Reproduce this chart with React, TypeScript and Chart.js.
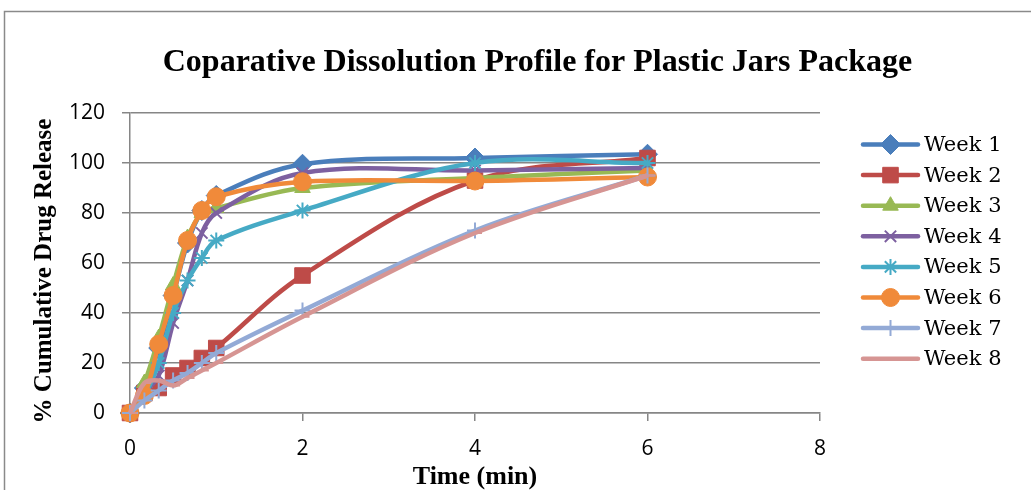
import React, { useEffect, useRef } from "react";
import { Chart, registerables } from "chart.js";
import { drawPoint } from "chart.js/helpers";

Chart.register(...registerables);

const TITLE = "Coparative Dissolution Profile for Plastic Jars Package";
const X_TITLE = "Time (min)";
const Y_TITLE = "% Cumulative Drug Release";

const times = [0, 0.167, 0.333, 0.5, 0.667, 0.833, 1, 2, 4, 6];

const seriesNames = ["Week 1", "Week 2", "Week 3", "Week 4", "Week 5", "Week 6", "Week 7", "Week 8"];

const week1 = [0, 10, 26, 47, 68, 81, 87, 99.5, 102, 103.5];
const week2 = [0, 8, 10, 15, 18, 22, 26, 55, 93, 102];
const week3 = [0, 12, 30, 51, 70, 80, 82, 90, 94, 97];
const week4 = [0, 8, 15, 36, 53, 72, 80, 96, 97, 98];
const week5 = [0, 7, 20, 40, 53, 62, 69, 81, 100, 100];
const week6 = [0, 7, 27.5, 47, 69, 81, 86.5, 92.5, 92.8, 94.4];
const week7 = [0, 5, 9, 13, 16, 20, 24, 41, 73, 95];
const week8 = [0, 12, 13, 11, 14, 17, 20, 38.5, 72, 95];

const seriesValues = [week1, week2, week3, week4, week5, week6, week7, week8];

const seriesColors = ["#4A7EBB", "#BE4B48", "#98B954", "#7D60A0", "#46AAC5", "#F08A3A", "#93AAD6", "#D69593"];
const pointStyles = ["rectRot", "rect", "triangle", "crossRot", "star", "circle", "cross", "dash"];
const pointRadii = [10, 11, 9, 8, 8, 9, 8, 7];

const xTicks = [0, 2, 4, 6, 8];
const yTicks = [0, 20, 40, 60, 80, 100, 120];

const frameAndLegend = {
  id: "frameAndLegend",
  beforeDraw(chart: any) {
    const ctx = chart.ctx;
    ctx.save();
    ctx.fillStyle = "#ffffff";
    ctx.fillRect(0, 0, chart.width, chart.height);
    ctx.strokeStyle = "#8a8a8a";
    ctx.lineWidth = 1.5;
    ctx.strokeRect(4.5, 11.5, 1200, 1000);
    ctx.restore();
  },
  afterDraw(chart: any) {
    const ctx = chart.ctx;
    ctx.save();
    // chart title
    ctx.fillStyle = "#000000";
    ctx.font = "bold 32px 'Liberation Serif', 'Times New Roman', serif";
    ctx.textAlign = "center";
    ctx.textBaseline = "middle";
    ctx.fillText(TITLE, 537.5, 63);
    // y-axis title
    ctx.save();
    ctx.translate(45, 271);
    ctx.rotate(-Math.PI / 2);
    ctx.font = "bold 25px 'Liberation Serif', 'Times New Roman', serif";
    ctx.fillText(Y_TITLE, 0, 0);
    ctx.restore();
    // legend
    const x0 = 863;
    const x1 = 918;
    const startY = 144.5;
    const step = 30.6;
    chart.data.datasets.forEach((ds: any, i: number) => {
      const y = startY + i * step;
      ctx.strokeStyle = ds.borderColor;
      ctx.lineWidth = ds.borderWidth;
      ctx.lineCap = "round";
      ctx.beginPath();
      ctx.moveTo(x0, y);
      ctx.lineTo(x1, y);
      ctx.stroke();
      if (ds.pointStyle !== "dash") {
        ctx.fillStyle = ds.pointBackgroundColor;
        ctx.strokeStyle = ds.pointBorderColor;
        ctx.lineWidth = ds.pointBorderWidth;
        ctx.lineCap = "butt";
        drawPoint(ctx, { pointStyle: ds.pointStyle, rotation: 0, radius: ds.pointRadius, borderWidth: ds.pointBorderWidth }, (x0 + x1) / 2, y);
      }
      ctx.fillStyle = "#000000";
      ctx.font = "21px 'DejaVu Serif'";
      ctx.textAlign = "left";
      ctx.textBaseline = "middle";
      ctx.fillText(ds.label, 924, y + 1);
    });
    ctx.restore();
  },
};

export default function App() {
  const ref = useRef<HTMLCanvasElement | null>(null);

  useEffect(() => {
    if (!ref.current) return;
    const datasets = seriesNames.map((name, i) => {
      const isLine = ["crossRot", "star", "cross", "dash"].includes(pointStyles[i]);
      return {
        label: name,
        data: times.map((t, j) => ({ x: t, y: seriesValues[i][j] })),
        borderColor: seriesColors[i],
        backgroundColor: seriesColors[i],
        borderWidth: 4.5,
        pointStyle: pointStyles[i],
        pointRadius: pointRadii[i],
        pointBackgroundColor: seriesColors[i],
        pointBorderColor: seriesColors[i],
        pointBorderWidth: isLine ? 2 : 1,
        tension: 0.35,
        clip: false,
        order: 7 - i,
      };
    });

    const chart = new Chart(ref.current, {
      type: "line",
      data: { datasets },
      plugins: [frameAndLegend],
      options: {
        animation: false,
        responsive: false,
        devicePixelRatio: 1,
        layout: { padding: { left: 0, right: 211, top: 113, bottom: 0 } },
        plugins: {
          legend: { display: false },
          tooltip: { enabled: false },
          title: { display: false },
        },
        scales: {
          x: {
            type: "linear",
            min: 0,
            max: 8,
            afterBuildTicks: (scale: any) => {
              scale.ticks = xTicks.map((v) => ({ value: v }));
            },
            afterFit: (scale: any) => {
              scale.height = 77;
            },
            ticks: {
              color: "#000000",
              font: { family: "'Open Sans', 'Liberation Sans', sans-serif", size: 21, lineHeight: 1.2 },
              padding: 15,
            },
            grid: {
              drawOnChartArea: false,
              drawTicks: true,
              tickLength: 8,
              color: "#868686",
              lineWidth: 1.5,
            },
            border: { display: true, color: "#868686", width: 1.5 },
            title: {
              display: true,
              text: X_TITLE,
              color: "#000000",
              font: { family: "'Liberation Serif', 'Times New Roman', serif", size: 26, weight: "bold", lineHeight: 1 },
              padding: { top: 0, bottom: 0 },
            },
          },
          y: {
            type: "linear",
            min: 0,
            max: 120,
            afterBuildTicks: (scale: any) => {
              scale.ticks = yTicks.map((v) => ({ value: v }));
            },
            afterFit: (scale: any) => {
              scale.width = 130;
            },
            ticks: {
              color: "#000000",
              font: { family: "'Open Sans', 'Liberation Sans', sans-serif", size: 21 },
              padding: 17,
            },
            grid: {
              drawOnChartArea: true,
              drawTicks: true,
              tickLength: 8,
              color: "#868686",
              lineWidth: 1.5,
            },
            border: { display: true, color: "#868686", width: 1.5 },
            title: { display: false },
          },
        },
      } as any,
    });
    return () => chart.destroy();
  }, []);

  return (
    <div style={{ position: "fixed", left: 0, top: 0, width: 1031, height: 490, background: "#ffffff" }}>
      <canvas ref={ref} width={1031} height={490} style={{ width: 1031, height: 490, display: "block" }} />
    </div>
  );
}
